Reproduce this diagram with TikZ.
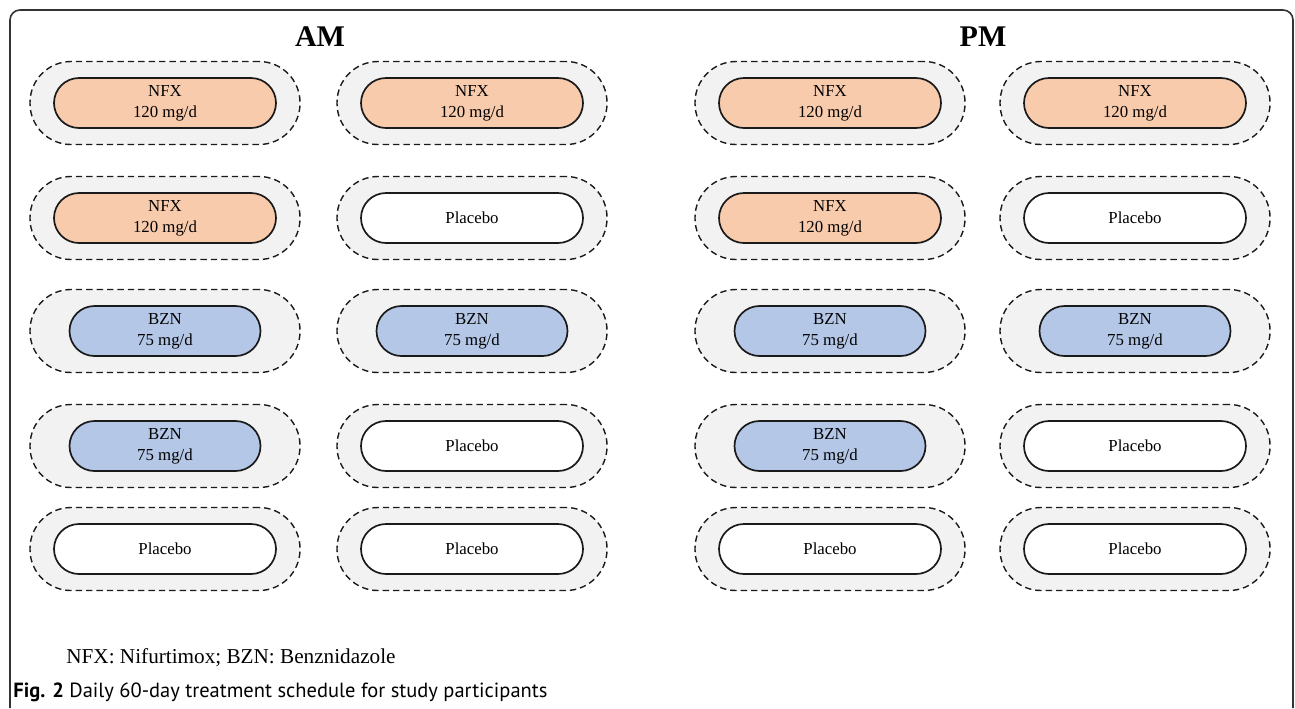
\documentclass[tikz,border=0pt]{standalone}
\usepackage{fontspec}
\setmainfont{Liberation Serif}
\newfontfamily\capfont{PT Sans}
\usepackage{xcolor}
\usepackage{tikz}
\definecolor{line}{HTML}{1A1A1A}
\definecolor{frameline}{HTML}{333333}
\definecolor{shellfill}{HTML}{F2F2F2}
\definecolor{nfxfill}{HTML}{F8CBAD}
\definecolor{bznfill}{HTML}{B4C7E7}
\tikzset{
  frame/.style={draw=frameline, line width=0.8pt, rounded corners=5pt},
  shell/.style={draw=line, fill=shellfill, dash pattern=on 3.2pt off 2pt, line width=0.7pt,
    rounded corners=20.5pt, minimum width=135pt, minimum height=41.5pt, inner sep=0pt},
  dose/.style={draw=line, line width=0.85pt, rounded corners=12.5pt, minimum height=25pt,
    inner sep=0pt, align=center, font=\fontsize{8.4}{10.5}\selectfont},
  nfx/.style={dose, fill=nfxfill, minimum width=111pt},
  bzn/.style={dose, fill=bznfill, minimum width=95.5pt},
  plac/.style={dose, fill=white, minimum width=111pt},
  head/.style={font=\fontsize{15}{18}\selectfont\bfseries, anchor=base},
}

\begin{document}
\begin{tikzpicture}[x=0.5pt,y=-0.5pt]
  \useasboundingbox (0,0) rectangle (1295,708);
  \draw[frame] (10,708) -- (10,10) -- (1293,10) -- (1293,708);

  \node[head] (am) at (320,46) {AM};
  \node[head] (pm) at (983,46) {PM};

  % AM, left column
  \node[shell] (amA1) at (165,103) {};
  \node[nfx]   (amA1d) at (amA1) {NFX\\120 mg/d};
  \node[shell] (amA2) at (165,218) {};
  \node[nfx]   (amA2d) at (amA2) {NFX\\120 mg/d};
  \node[shell] (amA3) at (165,331) {};
  \node[bzn]   (amA3d) at (amA3) {BZN\\75 mg/d};
  \node[shell] (amA4) at (165,446) {};
  \node[bzn]   (amA4d) at (amA4) {BZN\\75 mg/d};
  \node[shell] (amA5) at (165,549) {};
  \node[plac]  (amA5d) at (amA5) {Placebo};

  % AM, right column
  \node[shell] (amB1) at (472,103) {};
  \node[nfx]   (amB1d) at (amB1) {NFX\\120 mg/d};
  \node[shell] (amB2) at (472,218) {};
  \node[plac]  (amB2d) at (amB2) {Placebo};
  \node[shell] (amB3) at (472,331) {};
  \node[bzn]   (amB3d) at (amB3) {BZN\\75 mg/d};
  \node[shell] (amB4) at (472,446) {};
  \node[plac]  (amB4d) at (amB4) {Placebo};
  \node[shell] (amB5) at (472,549) {};
  \node[plac]  (amB5d) at (amB5) {Placebo};

  % PM, left column
  \node[shell] (pmA1) at (830,103) {};
  \node[nfx]   (pmA1d) at (pmA1) {NFX\\120 mg/d};
  \node[shell] (pmA2) at (830,218) {};
  \node[nfx]   (pmA2d) at (pmA2) {NFX\\120 mg/d};
  \node[shell] (pmA3) at (830,331) {};
  \node[bzn]   (pmA3d) at (pmA3) {BZN\\75 mg/d};
  \node[shell] (pmA4) at (830,446) {};
  \node[bzn]   (pmA4d) at (pmA4) {BZN\\75 mg/d};
  \node[shell] (pmA5) at (830,549) {};
  \node[plac]  (pmA5d) at (pmA5) {Placebo};

  % PM, right column
  \node[shell] (pmB1) at (1135,103) {};
  \node[nfx]   (pmB1d) at (pmB1) {NFX\\120 mg/d};
  \node[shell] (pmB2) at (1135,218) {};
  \node[plac]  (pmB2d) at (pmB2) {Placebo};
  \node[shell] (pmB3) at (1135,331) {};
  \node[bzn]   (pmB3d) at (pmB3) {BZN\\75 mg/d};
  \node[shell] (pmB4) at (1135,446) {};
  \node[plac]  (pmB4d) at (pmB4) {Placebo};
  \node[shell] (pmB5) at (1135,549) {};
  \node[plac]  (pmB5d) at (pmB5) {Placebo};

  \node[anchor=base west, inner sep=0pt, font=\fontsize{10.6}{12}\selectfont] (key) at (66,663)
    {NFX: Nifurtimox; BZN: Benznidazole};
  \node[anchor=base west, inner sep=0pt, font=\capfont\fontsize{10.25}{12}\selectfont] (cap) at (13,697)
    {\textbf{Fig. 2} Daily 60-day treatment schedule for study participants};
\end{tikzpicture}
\end{document}
